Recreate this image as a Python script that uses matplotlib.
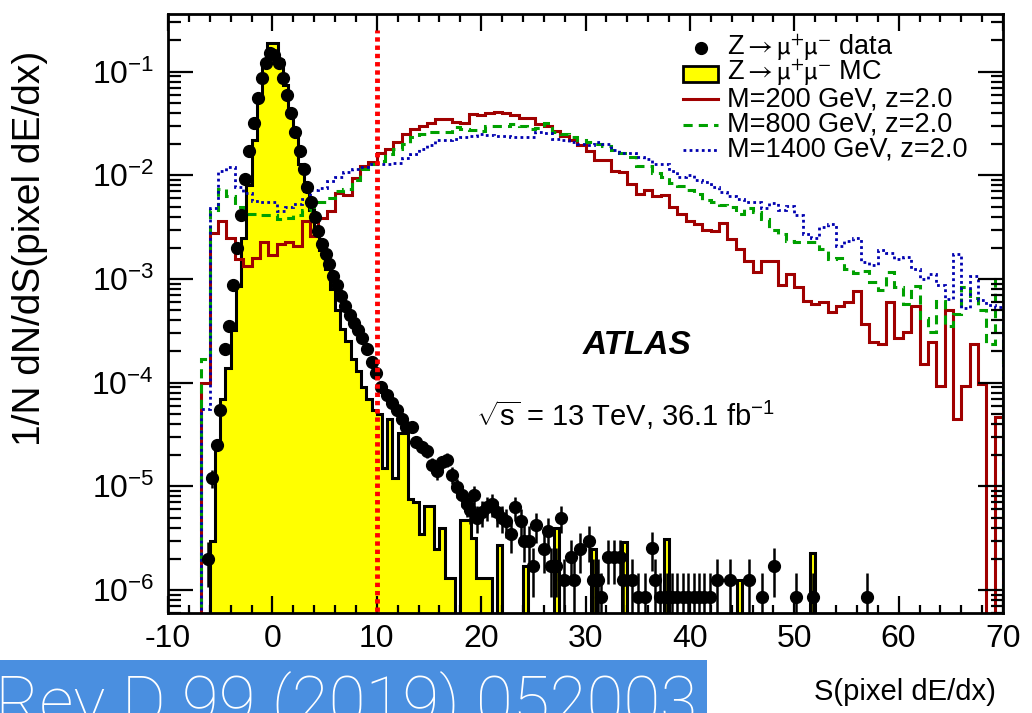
import numpy as np
import matplotlib
matplotlib.use('Agg')
import matplotlib.pyplot as plt
from matplotlib.lines import Line2D
from matplotlib.patches import Rectangle
from matplotlib.ticker import MultipleLocator, LogLocator, FuncFormatter, NullFormatter

plt.rcParams['font.family'] = ['Liberation Sans', 'DejaVu Sans']
plt.rcParams['mathtext.fontset'] = 'custom'
plt.rcParams['mathtext.rm'] = 'Liberation Sans'
plt.rcParams['mathtext.it'] = 'Liberation Sans:italic'
plt.rcParams['mathtext.bf'] = 'Liberation Sans:bold'
plt.rcParams['axes.unicode_minus'] = False

# signal samples, 0.8 wide bins from -10 to 70
sig_edges = np.linspace(-10, 70, 101)
m200 = [0, 0, 0, 0, 1.0e-4, 2.8e-3, 3.6e-3, 2.5e-3, 1.55e-3, 1.33e-3,
        1.6e-3, 2.3e-3, 1.7e-3, 2.2e-3, 2.3e-3, 2.1e-3, 3.6e-3, 2.6e-3, 3.9e-3, 4.5e-3,
        6.7e-3, 6.4e-3, 9.5e-3, 1.23e-2, 1.33e-2, 1.66e-2, 1.8e-2, 2.1e-2, 2.5e-2, 2.8e-2,
        3.0e-2, 3.2e-2, 3.5e-2, 3.5e-2, 3.3e-2, 3.2e-2, 3.9e-2, 3.8e-2, 4.0e-2, 4.1e-2,
        4.0e-2, 3.8e-2, 3.6e-2, 3.6e-2, 3.1e-2, 3.0e-2, 2.7e-2, 2.4e-2, 2.2e-2, 1.95e-2,
        1.7e-2, 1.4e-2, 1.4e-2, 1.1e-2, 1.07e-2, 8.2e-3, 6.6e-3, 7.3e-3, 6.3e-3, 6.4e-3,
        4.9e-3, 4.2e-3, 3.6e-3, 3.4e-3, 3.0e-3, 2.9e-3, 3.5e-3, 2.45e-3, 1.95e-3, 1.5e-3,
        1.16e-3, 1.5e-3, 1.5e-3, 8.7e-4, 1.12e-3, 8.3e-4, 6.1e-4, 5.7e-4, 6.0e-4, 4.8e-4,
        5.5e-4, 6.0e-4, 7.6e-4, 3.7e-4, 2.45e-4, 2.35e-4, 6.0e-4, 2.7e-4, 3.1e-4, 5.5e-4,
        1.5e-4, 2.45e-4, 9.3e-5, 5.0e-4, 4.5e-5, 9.3e-5, 2.35e-4, 9.8e-5, 0, 4.7e-5]
m800 = [0, 0, 0, 0, 1.7e-4, 4.6e-3, 7.4e-3, 6.3e-3, 5.0e-3, 4.2e-3,
        4.2e-3, 4.1e-3, 4.1e-3, 3.8e-3, 3.9e-3, 4.1e-3, 4.6e-3, 5.0e-3, 5.5e-3, 6.1e-3,
        7.1e-3, 7.4e-3, 9.1e-3, 1.14e-2, 1.28e-2, 1.38e-2, 1.6e-2, 1.8e-2, 2.0e-2, 2.35e-2,
        2.5e-2, 2.6e-2, 2.6e-2, 2.6e-2, 2.95e-2, 2.8e-2, 2.75e-2, 2.7e-2, 3.0e-2, 3.0e-2,
        3.0e-2, 3.1e-2, 3.0e-2, 2.8e-2, 2.85e-2, 3.2e-2, 2.6e-2, 2.5e-2, 2.35e-2, 2.2e-2,
        2.1e-2, 2.0e-2, 1.9e-2, 1.75e-2, 1.65e-2, 1.5e-2, 1.23e-2, 1.23e-2, 1.05e-2, 9.7e-3,
        8.5e-3, 7.9e-3, 7.2e-3, 6.6e-3, 5.8e-3, 5.5e-3, 5.2e-3, 5.0e-3, 4.2e-3, 4.8e-3,
        4.4e-3, 3.8e-3, 2.95e-3, 2.7e-3, 2.35e-3, 2.25e-3, 2.25e-3, 2.3e-3, 1.95e-3, 1.55e-3,
        1.6e-3, 1.25e-3, 1.14e-3, 1.2e-3, 9.4e-4, 7.9e-4, 1.17e-3, 8.3e-4, 5.7e-4, 8.5e-4,
        4.2e-4, 3.1e-4, 6.1e-4, 3.5e-4, 4.6e-4, 8.3e-4, 6.5e-4, 5.0e-4, 2.35e-4, 1.0e-3]
m1400 = [0, 0, 0, 0, 5.6e-5, 4.8e-3, 1.1e-2, 1.2e-2, 7.8e-3, 6.8e-3,
         5.6e-3, 5.5e-3, 5.5e-3, 4.5e-3, 5.0e-3, 5.3e-3, 5.9e-3, 7.2e-3, 7.6e-3, 8.9e-3,
         9.6e-3, 1.07e-2, 1.15e-2, 1.21e-2, 1.28e-2, 1.3e-2, 1.3e-2, 1.32e-2, 1.48e-2, 1.6e-2,
         1.78e-2, 1.95e-2, 2.2e-2, 2.2e-2, 2.25e-2, 2.35e-2, 2.4e-2, 2.5e-2, 2.45e-2, 2.4e-2,
         2.4e-2, 2.35e-2, 2.35e-2, 2.35e-2, 2.6e-2, 2.55e-2, 2.25e-2, 2.2e-2, 2.1e-2, 2.0e-2,
         1.98e-2, 2.1e-2, 2.0e-2, 1.74e-2, 1.65e-2, 1.65e-2, 1.5e-2, 1.45e-2, 1.28e-2, 1.3e-2,
         1.1e-2, 9.7e-3, 1.0e-2, 9.0e-3, 8.6e-3, 7.7e-3, 6.9e-3, 6.3e-3, 5.9e-3, 5.5e-3,
         5.5e-3, 4.8e-3, 5.4e-3, 4.6e-3, 5.1e-3, 4.1e-3, 2.7e-3, 2.5e-3, 3.2e-3, 3.4e-3,
         2.1e-3, 2.35e-3, 2.5e-3, 1.45e-3, 1.35e-3, 1.9e-3, 1.8e-3, 1.55e-3, 1.63e-3, 1.25e-3,
         1.0e-3, 1.12e-3, 8.7e-4, 6.4e-4, 1.73e-3, 5.2e-4, 1.07e-3, 6.3e-4, 5.6e-4, 5.4e-4]

# Z->mumu MC, 0.5 wide bins starting at S = -6
mc_start = -6.0
mc_vals = [3e-6, 2.5e-5, 7e-5, 1.4e-4, 3.2e-4, 8.5e-4, 2.5e-3, 8e-3, 2.2e-2, 5.5e-2,
           0.11, 0.19, 0.19, 0.13, 7.5e-2, 4.2e-2, 2.4e-2, 1.3e-2, 7.0e-3, 4.6e-3,
           2.9e-3, 1.9e-3, 1.25e-3, 8.0e-4, 5.0e-4, 3.3e-4, 2.5e-4, 1.7e-4, 1.3e-4, 9e-5,
           7e-5, 5.5e-5, 5.0e-5, 1.5e-5, 4.5e-5, 1.2e-5, 3.3e-5, 3.3e-5, 7.5e-6, 7e-6,
           3.5e-6, 6.5e-6, 6.5e-6, 2.5e-6, 4e-6, 1.3e-6, 1.3e-6, 0, 4.7e-6, 4.7e-6,
           3.2e-6, 1.3e-6, 1.3e-6, 1.3e-6, 0, 2.7e-6, 0, 0, 0, 0,
           1.7e-6, 0, 0, 0, 0, 0, 4e-6, 0, 0, 0,
           0, 0, 0, 2.5e-6, 0, 0, 0, 0, 0, 2.9e-6,
           0, 0, 0, 0, 0, 0, 0, 3.1e-6, 0, 0,
           0, 0, 0, 0, 0, 0, 0, 0, 0, 0,
           0, 1.26e-6, 0, 0, 0, 0, 0, 0, 0, 0,
           0, 0, 0, 0, 0, 2.3e-6, 0]

# Z->mumu data
data_x = [-6.15, -5.8, -5.35, -5.0, -4.55, -4.2, -3.75, -3.4, -3.05, -2.6,
          -2.25, -1.8, -1.4, -1.0, -0.65, -0.2, 0.2, 0.6, 1.0, 1.4,
          1.8, 2.2, 2.6, 3.0, 3.35, 3.7, 4.05, 4.4, 4.75, 5.1,
          5.45, 5.8, 6.2, 6.6, 7.0, 7.4, 7.8, 8.2, 8.6, 9.05,
          9.5, 9.95, 10.45, 10.95, 11.45, 11.9, 12.4, 12.85, 13.35, 13.8,
          14.3, 14.8, 15.25, 15.75, 16.25, 16.75, 17.25, 17.7, 18.2, 18.6,
          18.95, 19.3, 19.6, 20.1, 20.6, 21.0, 21.5, 22.0, 22.4, 22.9,
          23.2, 23.8, 24.1, 24.6, 25.0, 25.3, 26.0, 26.4, 26.7, 27.2,
          27.7, 27.9, 28.6, 28.9, 29.5, 30.3, 30.7, 31.2, 31.5, 32.2,
          32.7, 33.3, 33.6, 34.5, 35.0, 35.7, 36.4, 36.7, 37.1, 37.8,
          38.3, 38.8, 39.3, 39.8, 40.4, 40.9, 41.4, 41.9, 42.6, 43.8,
          45.7, 46.9, 48.1, 50.2, 51.8, 57.0]
data_y = [2.0e-6, 1.2e-5, 2.5e-5, 5.4e-5, 2.1e-4, 3.5e-4, 8.7e-4, 2.0e-3, 4.1e-3, 9.2e-3,
          1.7e-2, 3.2e-2, 5.6e-2, 8.7e-2, 0.121, 0.15, 0.145, 0.121, 8.7e-2, 6.0e-2,
          4.0e-2, 2.6e-2, 1.7e-2, 1.15e-2, 7.8e-3, 5.5e-3, 4.0e-3, 2.9e-3, 2.2e-3, 1.75e-3,
          1.4e-3, 1.07e-3, 8.7e-4, 6.9e-4, 5.5e-4, 4.5e-4, 3.8e-4, 3.2e-4, 2.7e-4, 2.1e-4,
          1.6e-4, 1.23e-4, 9.1e-5, 7.6e-5, 6.3e-5, 5.4e-5, 4.5e-5, 3.7e-5, 3.7e-5, 2.7e-5,
          2.4e-5, 2.2e-5, 1.6e-5, 1.4e-5, 1.7e-5, 1.8e-5, 1.3e-5, 9.8e-6, 8.2e-6, 6.8e-6,
          5.9e-6, 8.2e-6, 5.0e-6, 5.6e-6, 6.3e-6, 6.8e-6, 5.6e-6, 5.0e-6, 4.6e-6, 3.5e-6,
          6.3e-6, 4.6e-6, 3.0e-6, 3.0e-6, 1.7e-6, 4.2e-6, 2.5e-6, 3.7e-6, 1.7e-6, 1.7e-6,
          5.0e-6, 1.25e-6, 2.1e-6, 1.25e-6, 2.5e-6, 3.0e-6, 1.25e-6, 1.25e-6, 8.5e-7, 2.1e-6,
          2.1e-6, 2.1e-6, 1.25e-6, 1.25e-6, 8.5e-7, 8.5e-7, 2.55e-6, 1.25e-6, 8.5e-7, 8.5e-7,
          8.5e-7, 8.5e-7, 8.5e-7, 8.5e-7, 8.5e-7, 8.5e-7, 8.5e-7, 8.5e-7, 1.25e-6, 1.25e-6,
          1.25e-6, 8.5e-7, 1.7e-6, 8.5e-7, 8.5e-7, 8.5e-7]
evt_weight = 4.25e-7  # weight of one event

legend_labels = [r'Z$\rightarrow\mathrm{\mu^{+}\mu^{-}}$ data',
                 r'Z$\rightarrow\mathrm{\mu^{+}\mu^{-}}$ MC',
                 'M=200 GeV, z=2.0', 'M=800 GeV, z=2.0', 'M=1400 GeV, z=2.0']

W, H = 1032, 713
fig = plt.figure(figsize=(W / 100, H / 100), dpi=100)
ax = fig.add_axes([168 / W, 1 - 613 / H, (1003 - 168) / W, (613 - 14) / H])
ax.set_yscale('log')

tiny = 1e-12
def nz(v):
    v = np.asarray(v, dtype=float)
    return np.where(v > 0, v, tiny)

mc_edges = mc_start + 0.5 * np.arange(len(mc_vals) + 1)
ax.stairs(nz(mc_vals), mc_edges, baseline=tiny, fill=True, color='#ffff00', lw=0)
ax.stairs(nz(mc_vals), mc_edges, baseline=tiny, color='black', lw=2.2)

ax.stairs(nz(m200), sig_edges, baseline=tiny, color='#a00000', lw=2.2)
ax.stairs(nz(m800), sig_edges, baseline=tiny, color='#00a000', lw=2.2, linestyle=(0, (3, 2)))
ax.stairs(nz(m1400), sig_edges, baseline=tiny, color='#0000b0', lw=2.0, linestyle=(0, (1, 1.2)))

dy = np.sqrt(np.asarray(data_y) * evt_weight)
ax.errorbar(data_x, data_y, yerr=dy, fmt='o', color='black', ms=8.5,
            elinewidth=1.8, capsize=0, zorder=5)

ax.vlines(10, 1e-7, 0.25, colors='#ff0000', lw=3.5, linestyles=(0, (0.9, 0.8)), zorder=6)

ax.set_xlim(-10, 70)
ax.set_ylim(6.0e-7, 0.36)
ax.xaxis.set_major_locator(MultipleLocator(10))
ax.xaxis.set_minor_locator(MultipleLocator(2))
ax.yaxis.set_major_locator(LogLocator(base=10, numticks=20))
ax.yaxis.set_minor_locator(LogLocator(base=10, subs=np.arange(2, 10), numticks=20))
ax.yaxis.set_major_formatter(FuncFormatter(lambda v, p: r'$10^{%d}$' % round(np.log10(v))))
ax.yaxis.set_minor_formatter(NullFormatter())
ax.tick_params(which='both', direction='in', top=True, right=True, width=1.6, labelsize=23)
ax.tick_params(axis='x', which='major', length=12, pad=8)
ax.tick_params(axis='x', which='minor', length=6)
ax.tick_params(axis='y', which='major', length=18, pad=10)
ax.tick_params(axis='y', which='minor', length=9)
for s in ax.spines.values():
    s.set_linewidth(2)

# legend drawn ROOT-style
rows = [48, 73.5, 99, 124.5, 150]
for lab, yp in zip(legend_labels, rows):
    fig.text(727 / W, 1 - yp / H, lab, fontsize=19.5, va='center', ha='left',
             math_fontfamily='stixsans')
x0, x1 = 683 / W, 718 / W
fig.add_artist(Line2D([(x0 + x1) / 2], [1 - rows[0] / H], marker='o', color='black', ms=8.5,
                      transform=fig.transFigure))
fig.add_artist(Rectangle((x0, 1 - 82 / H), x1 - x0, 16 / H, facecolor='#ffff00',
                         edgecolor='black', lw=2, transform=fig.transFigure))
fig.add_artist(Line2D([x0, x1], [1 - rows[2] / H] * 2, color='#a00000', lw=2.2,
                      transform=fig.transFigure))
fig.add_artist(Line2D([x0, x1], [1 - rows[3] / H] * 2, color='#00a000', lw=2.2,
                      linestyle=(0, (3, 2)), transform=fig.transFigure))
fig.add_artist(Line2D([x0, x1], [1 - rows[4] / H] * 2, color='#0000b0', lw=2.0,
                      linestyle=(0, (1, 1.2)), transform=fig.transFigure))

fig.text(637 / W, 1 - 345 / H, 'ATLAS', fontsize=24, fontweight='bold', style='italic',
         ha='center', va='center')
fig.text(476 / W, 1 - 415 / H, r'$\sqrt{\mathregular{s}}$ = 13 TeV, 36.1 fb$^{\mathregular{-1}}$',
         fontsize=21, ha='left', va='center')

fig.text(30 / W, 1 - 248 / H, '1/N dN/dS(pixel dE/dx)', fontsize=28, rotation=90,
         ha='center', va='center')
fig.text(905 / W, 1 - 692 / H, 'S(pixel dE/dx)', fontsize=21, ha='center', va='center')

# reference banner at the bottom
fig.add_artist(Rectangle((0, 0), 707 / W, 53 / H, facecolor='#4a8fe0', edgecolor='none',
                         transform=fig.transFigure))
fig.text(697 / W, 1 - 724 / H, 'Phys. Rev D 99 (2019) 052003', fontsize=48.5, color='white',
         family=['Roboto', 'Lato', 'Liberation Sans'], fontweight='light',
         ha='right', va='baseline')

fig.savefig('out.png', dpi=100)
